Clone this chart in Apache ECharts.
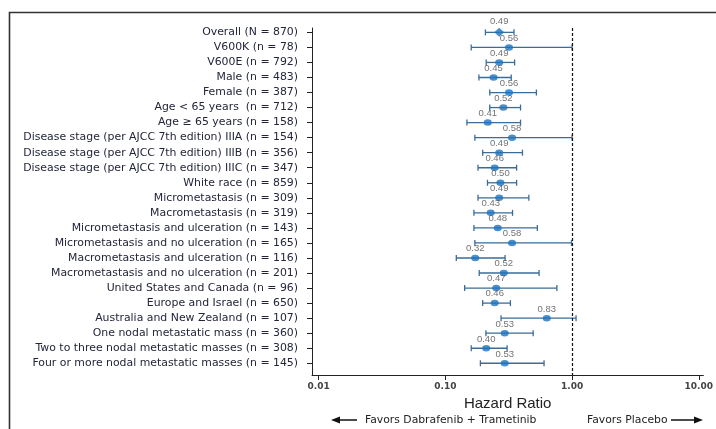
<!DOCTYPE html>
<html>
<head>
<meta charset="utf-8">
<script src="https://cdn.jsdelivr.net/npm/echarts@6/dist/echarts.min.js"></script>
<style>html,body{margin:0;padding:0;background:#fff}#c{width:716px;height:429px}</style>
</head>
<body>
<div id="c"></div>
<script>
// Subgroup labels (top to bottom)
const categories = [
  'Overall (N = 870)',
  'V600K (n = 78)',
  'V600E (n = 792)',
  'Male (n = 483)',
  'Female (n = 387)',
  'Age < 65 years  (n = 712)',
  'Age \u2265 65 years (n = 158)',
  'Disease stage (per AJCC 7th edition) IIIA (n = 154)',
  'Disease stage (per AJCC 7th edition) IIIB (n = 356)',
  'Disease stage (per AJCC 7th edition) IIIC (n = 347)',
  'White race (n = 859)',
  'Micrometastasis (n = 309)',
  'Macrometastasis (n = 319)',
  'Micrometastasis and ulceration (n = 143)',
  'Micrometastasis and no ulceration (n = 165)',
  'Macrometastasis and ulceration (n = 116)',
  'Macrometastasis and no ulceration (n = 201)',
  'United States and Canada (n = 96)',
  'Europe and Israel (n = 650)',
  'Australia and New Zealand (n = 107)',
  'One nodal metastatic mass (n = 360)',
  'Two to three nodal metastatic masses (n = 308)',
  'Four or more nodal metastatic masses (n = 145)'
];
// Hazard ratio as printed above each marker
const hrLabels = ['0.49','0.56','0.49','0.45','0.56','0.52','0.41','0.58','0.49','0.46','0.50','0.49','0.43','0.48','0.58','0.32','0.52','0.47','0.46','0.83','0.53','0.40','0.53'];
// Marker positions as drawn on the log axis
const hrPos  = [0.266,0.318,0.266,0.240,0.318,0.287,0.216,0.336,0.266,0.245,0.272,0.266,0.228,0.259,0.336,0.172,0.289,0.252,0.245,0.631,0.294,0.210,0.294];
// Whisker ends as drawn on the log axis
const ciLow  = [0.207,0.160,0.210,0.184,0.224,0.224,0.148,0.171,0.197,0.181,0.215,0.181,0.168,0.168,0.171,0.122,0.185,0.142,0.197,0.275,0.209,0.160,0.189];
const ciHigh = [0.348,1.000,0.352,0.331,0.523,0.392,0.392,1.000,0.406,0.365,0.365,0.456,0.339,0.532,0.990,0.296,0.549,0.759,0.326,1.075,0.493,0.307,0.601];
// x axis tick values
const xTicks = [0.01, 0.1, 1, 10];

const rows = categories.map((_, i) => i);
const errData = rows.map(i => [ciLow[i], ciHigh[i], i]);
const ptData = rows.map(i => i === 0
  ? { value: [hrPos[i], i], symbol: 'diamond', symbolSize: [10, 9] }
  : { value: [hrPos[i], i] });

const chart = echarts.init(document.getElementById('c'), null, { renderer: 'canvas' });
const FONT = '"Liberation Sans", Arial, sans-serif';
const WFONT = '"DejaVu Sans", sans-serif';

chart.setOption({
  animation: false,
  grid: { left: 312, right: 9.3, top: 28, bottom: 54, containLabel: false },
  xAxis: {
    type: 'log',
    logBase: 10,
    min: 0.00886,
    max: 10.87,
    name: 'Hazard Ratio',
    nameLocation: 'middle',
    nameGap: 20,
    nameTextStyle: { fontFamily: FONT, fontSize: 15, color: '#222' },
    axisLine: { onZero: false, lineStyle: { color: '#222', width: 1 } },
    axisTick: { show: true, length: 5, customValues: xTicks, lineStyle: { color: '#222' } },
    axisLabel: {
      customValues: xTicks,
      margin: 7,
      fontFamily: WFONT, fontSize: 9, fontWeight: 'bold', color: '#444',
      formatter: v => Number(v).toFixed(2)
    },
    splitLine: { show: false }
  },
  yAxis: {
    type: 'value',
    inverse: true,
    min: -0.29,
    max: 22.78,
    axisLine: { show: true, onZero: false, lineStyle: { color: '#222', width: 1 } },
    axisTick: { show: true, length: 5, customValues: rows, lineStyle: { color: '#222' } },
    axisLabel: {
      customValues: rows,
      margin: 14,
      fontFamily: WFONT, fontSize: 10.9, color: '#23263a',
      formatter: v => categories[Math.round(v)] || ''
    },
    splitLine: { show: false }
  },
  series: [
    {
      type: 'custom',
      clip: false,
      data: errData,
      encode: { x: [0, 1], y: 2 },
      renderItem: function (params, api) {
        const y = api.value(2);
        const p1 = api.coord([api.value(0), y]);
        const p2 = api.coord([api.value(1), y]);
        const cap = 3;
        const st = { stroke: '#3a6d99', lineWidth: 1.3 };
        return {
          type: 'group',
          children: [
            { type: 'line', shape: { x1: p1[0], y1: p1[1], x2: p2[0], y2: p2[1] }, style: st },
            { type: 'line', shape: { x1: p1[0], y1: p1[1] - cap, x2: p1[0], y2: p1[1] + cap }, style: st },
            { type: 'line', shape: { x1: p2[0], y1: p2[1] - cap, x2: p2[0], y2: p2[1] + cap }, style: st }
          ]
        };
      },
      z: 2
    },
    {
      type: 'scatter',
      data: ptData,
      symbol: 'circle',
      symbolSize: [8, 6.5],
      itemStyle: { color: '#1a73c0' },
      label: {
        show: true,
        position: 'top',
        distance: 1,
        fontFamily: FONT, fontSize: 9.5, color: '#4d4d4d',
        formatter: p => hrLabels[p.dataIndex]
      },
      markLine: {
        silent: true,
        symbol: 'none',
        label: { show: false },
        lineStyle: { color: '#111', type: [3, 2], width: 1.2 },
        data: [{ xAxis: 1 }]
      },
      z: 3
    }
  ],
  graphic: [
    { type: 'rect', shape: { x: 9.5, y: 12.5, width: 800, height: 500 }, style: { fill: 'none', stroke: '#333', lineWidth: 1.6 }, silent: true },
    { type: 'line', shape: { x1: 357, y1: 420, x2: 337, y2: 420 }, style: { stroke: '#111', lineWidth: 1.5 } },
    { type: 'polygon', shape: { points: [[331, 420], [340, 416.5], [340, 423.5]] }, style: { fill: '#111' } },
    { type: 'text', x: 365, y: 420, style: { text: 'Favors Dabrafenib + Trametinib', fontFamily: WFONT, fontSize: 10.8, fill: '#222', verticalAlign: 'middle' } },
    { type: 'text', x: 587, y: 420, style: { text: 'Favors Placebo', fontFamily: WFONT, fontSize: 10.8, fill: '#222', verticalAlign: 'middle' } },
    { type: 'line', shape: { x1: 671, y1: 420, x2: 695, y2: 420 }, style: { stroke: '#111', lineWidth: 1.5 } },
    { type: 'polygon', shape: { points: [[703, 420], [694, 416.5], [694, 423.5]] }, style: { fill: '#111' } }
  ]
});
</script>
</body>
</html>
